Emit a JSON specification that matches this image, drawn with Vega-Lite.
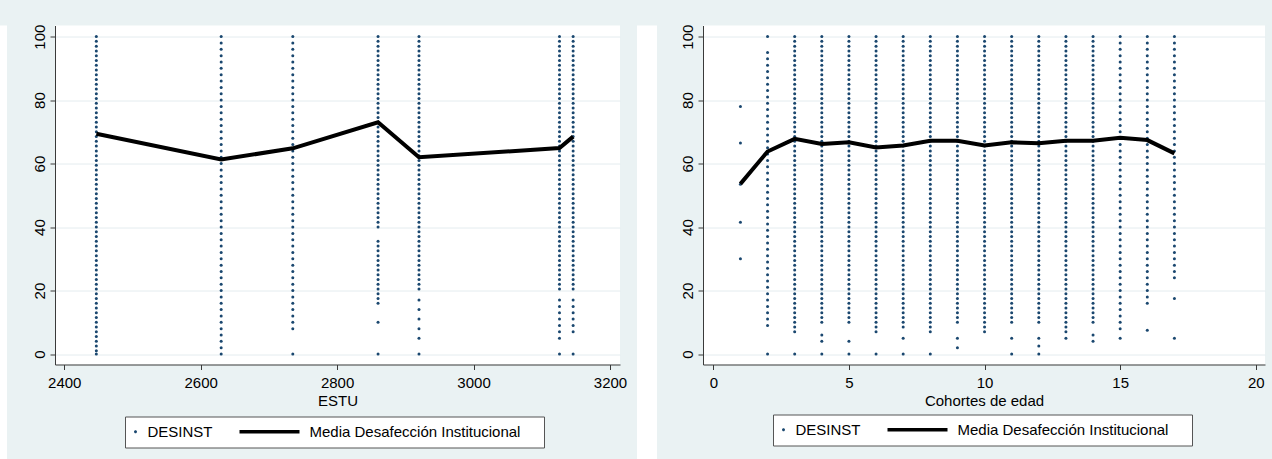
{
"$schema":"https://vega.github.io/schema/vega-lite/v6.json",
"background":"#EAF2F3",
"padding":{"left":0,"right":0,"top":23.5,"bottom":0},
"bounds":"flush",
"spacing":0,
"datasets":{
"LM":[{"x":2447,"y":69.4},{"x":2630,"y":61.3},{"x":2735,"y":64.8},{"x":2860,"y":73.0},{"x":2920,"y":62.0},{"x":3126,"y":64.9},{"x":3146,"y":68.5}],
"RM":[{"x":1,"y":53.6},{"x":2,"y":63.8},{"x":3,"y":67.8},{"x":4,"y":66.2},{"x":5,"y":66.7},{"x":6,"y":65.1},{"x":7,"y":65.7},{"x":8,"y":67.2},{"x":9,"y":67.2},{"x":10,"y":65.7},{"x":11,"y":66.7},{"x":12,"y":66.4},{"x":13,"y":67.2},{"x":14,"y":67.2},{"x":15,"y":68.1},{"x":16,"y":67.4},{"x":17,"y":63.2}],
"L":[
{"x":2447,"y":100},{"x":2447,"y":98.5},{"x":2447,"y":97},{"x":2447,"y":95.5},{"x":2447,"y":94},{"x":2447,"y":92.5},{"x":2447,"y":91},{"x":2447,"y":89.5},{"x":2447,"y":88},{"x":2447,"y":86.5},{"x":2447,"y":85},{"x":2447,"y":83.5},{"x":2447,"y":82},{"x":2447,"y":80.5},{"x":2447,"y":79},{"x":2447,"y":77.5},{"x":2447,"y":76},{"x":2447,"y":74.5},{"x":2447,"y":73},{"x":2447,"y":71.5},{"x":2447,"y":70},{"x":2447,"y":68.5},{"x":2447,"y":67},{"x":2447,"y":65.5},{"x":2447,"y":64},{"x":2447,"y":62.5},{"x":2447,"y":61},{"x":2447,"y":59.5},{"x":2447,"y":58},{"x":2447,"y":56.5},{"x":2447,"y":55},{"x":2447,"y":53.5},{"x":2447,"y":52},{"x":2447,"y":50.5},{"x":2447,"y":49},{"x":2447,"y":47.5},{"x":2447,"y":46},{"x":2447,"y":44.5},{"x":2447,"y":43},{"x":2447,"y":41.5},{"x":2447,"y":40},{"x":2447,"y":38.5},{"x":2447,"y":37},{"x":2447,"y":35.5},{"x":2447,"y":34},{"x":2447,"y":32.5},{"x":2447,"y":31},{"x":2447,"y":29.5},{"x":2447,"y":28},{"x":2447,"y":26.5},{"x":2447,"y":25},{"x":2447,"y":23.5},{"x":2447,"y":22},{"x":2447,"y":20.5},{"x":2447,"y":19},{"x":2447,"y":17.5},{"x":2447,"y":16},{"x":2447,"y":14.5},{"x":2447,"y":13},{"x":2447,"y":11.5},{"x":2447,"y":10},{"x":2447,"y":8.5},{"x":2447,"y":7},{"x":2447,"y":5.5},{"x":2447,"y":4},{"x":2447,"y":2.5},{"x":2447,"y":1},{"x":2447,"y":0},
{"x":2630,"y":100},{"x":2630,"y":98},{"x":2630,"y":96},{"x":2630,"y":94},{"x":2630,"y":92},{"x":2630,"y":90},{"x":2630,"y":88},{"x":2630,"y":86},{"x":2630,"y":84},{"x":2630,"y":82},{"x":2630,"y":80},{"x":2630,"y":78},{"x":2630,"y":76},{"x":2630,"y":74},{"x":2630,"y":72},{"x":2630,"y":70},{"x":2630,"y":68},{"x":2630,"y":66},{"x":2630,"y":64},{"x":2630,"y":62},{"x":2630,"y":60},{"x":2630,"y":58},{"x":2630,"y":56},{"x":2630,"y":54},{"x":2630,"y":52},{"x":2630,"y":50},{"x":2630,"y":48},{"x":2630,"y":46},{"x":2630,"y":44},{"x":2630,"y":42},{"x":2630,"y":40},{"x":2630,"y":38},{"x":2630,"y":36},{"x":2630,"y":34},{"x":2630,"y":32},{"x":2630,"y":30},{"x":2630,"y":28},{"x":2630,"y":26},{"x":2630,"y":24},{"x":2630,"y":22},{"x":2630,"y":20},{"x":2630,"y":18},{"x":2630,"y":16},{"x":2630,"y":14},{"x":2630,"y":12},{"x":2630,"y":10},{"x":2630,"y":8},{"x":2630,"y":6},{"x":2630,"y":4},{"x":2630,"y":2},{"x":2630,"y":0},
{"x":2735,"y":100},{"x":2735,"y":98},{"x":2735,"y":96},{"x":2735,"y":94},{"x":2735,"y":92},{"x":2735,"y":90},{"x":2735,"y":88},{"x":2735,"y":86},{"x":2735,"y":84},{"x":2735,"y":82},{"x":2735,"y":80},{"x":2735,"y":78},{"x":2735,"y":76},{"x":2735,"y":74},{"x":2735,"y":72},{"x":2735,"y":70},{"x":2735,"y":68},{"x":2735,"y":66},{"x":2735,"y":64},{"x":2735,"y":62},{"x":2735,"y":60},{"x":2735,"y":58},{"x":2735,"y":56},{"x":2735,"y":54},{"x":2735,"y":52},{"x":2735,"y":50},{"x":2735,"y":48},{"x":2735,"y":46},{"x":2735,"y":44},{"x":2735,"y":42},{"x":2735,"y":40},{"x":2735,"y":38},{"x":2735,"y":36},{"x":2735,"y":34},{"x":2735,"y":32},{"x":2735,"y":30},{"x":2735,"y":28},{"x":2735,"y":26},{"x":2735,"y":24},{"x":2735,"y":22},{"x":2735,"y":20},{"x":2735,"y":18},{"x":2735,"y":16},{"x":2735,"y":14},{"x":2735,"y":12},{"x":2735,"y":10},{"x":2735,"y":8},{"x":2735,"y":0},
{"x":2860,"y":100},{"x":2860,"y":98.5},{"x":2860,"y":97},{"x":2860,"y":95.5},{"x":2860,"y":94},{"x":2860,"y":92.5},{"x":2860,"y":91},{"x":2860,"y":89.5},{"x":2860,"y":88},{"x":2860,"y":86.5},{"x":2860,"y":85},{"x":2860,"y":83.5},{"x":2860,"y":82},{"x":2860,"y":80.5},{"x":2860,"y":79},{"x":2860,"y":77.5},{"x":2860,"y":76},{"x":2860,"y":74.5},{"x":2860,"y":73},{"x":2860,"y":71.5},{"x":2860,"y":70},{"x":2860,"y":68.5},{"x":2860,"y":67},{"x":2860,"y":65.5},{"x":2860,"y":64},{"x":2860,"y":62.5},{"x":2860,"y":61},{"x":2860,"y":59.5},{"x":2860,"y":58},{"x":2860,"y":56.5},{"x":2860,"y":55},{"x":2860,"y":53.5},{"x":2860,"y":52},{"x":2860,"y":50.5},{"x":2860,"y":49},{"x":2860,"y":47.5},{"x":2860,"y":46},{"x":2860,"y":44.5},{"x":2860,"y":43},{"x":2860,"y":41.5},{"x":2860,"y":40},{"x":2860,"y":35.5},{"x":2860,"y":34},{"x":2860,"y":32.5},{"x":2860,"y":31},{"x":2860,"y":29.5},{"x":2860,"y":28},{"x":2860,"y":26.5},{"x":2860,"y":25},{"x":2860,"y":23.5},{"x":2860,"y":22},{"x":2860,"y":20.5},{"x":2860,"y":19},{"x":2860,"y":17.5},{"x":2860,"y":16},{"x":2860,"y":10},{"x":2860,"y":0},
{"x":2920,"y":100},{"x":2920,"y":98.5},{"x":2920,"y":97},{"x":2920,"y":95.5},{"x":2920,"y":94},{"x":2920,"y":92.5},{"x":2920,"y":91},{"x":2920,"y":89.5},{"x":2920,"y":88},{"x":2920,"y":86.5},{"x":2920,"y":85},{"x":2920,"y":83.5},{"x":2920,"y":82},{"x":2920,"y":80.5},{"x":2920,"y":79},{"x":2920,"y":77.5},{"x":2920,"y":76},{"x":2920,"y":74.5},{"x":2920,"y":73},{"x":2920,"y":71.5},{"x":2920,"y":70},{"x":2920,"y":68.5},{"x":2920,"y":67},{"x":2920,"y":65.5},{"x":2920,"y":64},{"x":2920,"y":62.5},{"x":2920,"y":61},{"x":2920,"y":59.5},{"x":2920,"y":58},{"x":2920,"y":56.5},{"x":2920,"y":55},{"x":2920,"y":53.5},{"x":2920,"y":52},{"x":2920,"y":50.5},{"x":2920,"y":49},{"x":2920,"y":47.5},{"x":2920,"y":46},{"x":2920,"y":44.5},{"x":2920,"y":43},{"x":2920,"y":41.5},{"x":2920,"y":40},{"x":2920,"y":38.5},{"x":2920,"y":37},{"x":2920,"y":35.5},{"x":2920,"y":34},{"x":2920,"y":32.5},{"x":2920,"y":31},{"x":2920,"y":29.5},{"x":2920,"y":28},{"x":2920,"y":26.5},{"x":2920,"y":25},{"x":2920,"y":23.5},{"x":2920,"y":22},{"x":2920,"y":20.5},{"x":2920,"y":17},{"x":2920,"y":14},{"x":2920,"y":11},{"x":2920,"y":8},{"x":2920,"y":5},{"x":2920,"y":0},
{"x":3126,"y":100},{"x":3126,"y":98.5},{"x":3126,"y":97},{"x":3126,"y":95.5},{"x":3126,"y":94},{"x":3126,"y":92.5},{"x":3126,"y":91},{"x":3126,"y":89.5},{"x":3126,"y":88},{"x":3126,"y":86.5},{"x":3126,"y":85},{"x":3126,"y":83.5},{"x":3126,"y":82},{"x":3126,"y":80.5},{"x":3126,"y":79},{"x":3126,"y":77.5},{"x":3126,"y":76},{"x":3126,"y":74.5},{"x":3126,"y":73},{"x":3126,"y":71.5},{"x":3126,"y":70},{"x":3126,"y":68.5},{"x":3126,"y":67},{"x":3126,"y":65.5},{"x":3126,"y":64},{"x":3126,"y":62.5},{"x":3126,"y":61},{"x":3126,"y":59.5},{"x":3126,"y":58},{"x":3126,"y":56.5},{"x":3126,"y":55},{"x":3126,"y":53.5},{"x":3126,"y":52},{"x":3126,"y":50.5},{"x":3126,"y":49},{"x":3126,"y":47.5},{"x":3126,"y":46},{"x":3126,"y":44.5},{"x":3126,"y":43},{"x":3126,"y":41.5},{"x":3126,"y":40},{"x":3126,"y":38.5},{"x":3126,"y":37},{"x":3126,"y":35.5},{"x":3126,"y":34},{"x":3126,"y":32.5},{"x":3126,"y":31},{"x":3126,"y":29.5},{"x":3126,"y":28},{"x":3126,"y":26.5},{"x":3126,"y":25},{"x":3126,"y":23.5},{"x":3126,"y":22},{"x":3126,"y":20.5},{"x":3126,"y":17},{"x":3126,"y":15},{"x":3126,"y":13},{"x":3126,"y":11},{"x":3126,"y":9},{"x":3126,"y":7},{"x":3126,"y":5},{"x":3126,"y":0},
{"x":3146,"y":100},{"x":3146,"y":98.5},{"x":3146,"y":97},{"x":3146,"y":95.5},{"x":3146,"y":94},{"x":3146,"y":92.5},{"x":3146,"y":91},{"x":3146,"y":89.5},{"x":3146,"y":88},{"x":3146,"y":86.5},{"x":3146,"y":85},{"x":3146,"y":83.5},{"x":3146,"y":82},{"x":3146,"y":80.5},{"x":3146,"y":79},{"x":3146,"y":77.5},{"x":3146,"y":76},{"x":3146,"y":74.5},{"x":3146,"y":73},{"x":3146,"y":71.5},{"x":3146,"y":70},{"x":3146,"y":68.5},{"x":3146,"y":67},{"x":3146,"y":65.5},{"x":3146,"y":64},{"x":3146,"y":62.5},{"x":3146,"y":61},{"x":3146,"y":59.5},{"x":3146,"y":58},{"x":3146,"y":56.5},{"x":3146,"y":55},{"x":3146,"y":53.5},{"x":3146,"y":52},{"x":3146,"y":50.5},{"x":3146,"y":49},{"x":3146,"y":47.5},{"x":3146,"y":46},{"x":3146,"y":44.5},{"x":3146,"y":43},{"x":3146,"y":41.5},{"x":3146,"y":40},{"x":3146,"y":38.5},{"x":3146,"y":37},{"x":3146,"y":35.5},{"x":3146,"y":34},{"x":3146,"y":32.5},{"x":3146,"y":31},{"x":3146,"y":29.5},{"x":3146,"y":28},{"x":3146,"y":26.5},{"x":3146,"y":25},{"x":3146,"y":23.5},{"x":3146,"y":22},{"x":3146,"y":20.5},{"x":3146,"y":17},{"x":3146,"y":15},{"x":3146,"y":13},{"x":3146,"y":11},{"x":3146,"y":9},{"x":3146,"y":7},{"x":3146,"y":0}
],
"R":[
{"x":1,"y":78},{"x":1,"y":66.5},{"x":1,"y":53.5},{"x":1,"y":41.5},{"x":1,"y":30},
{"x":2,"y":100},{"x":2,"y":95},{"x":2,"y":93},{"x":2,"y":91},{"x":2,"y":89},{"x":2,"y":87},{"x":2,"y":85},{"x":2,"y":83},{"x":2,"y":81},{"x":2,"y":79},{"x":2,"y":77},{"x":2,"y":75},{"x":2,"y":73},{"x":2,"y":71},{"x":2,"y":69},{"x":2,"y":67},{"x":2,"y":65},{"x":2,"y":63},{"x":2,"y":61},{"x":2,"y":59},{"x":2,"y":57},{"x":2,"y":55},{"x":2,"y":53},{"x":2,"y":51},{"x":2,"y":49},{"x":2,"y":47},{"x":2,"y":45},{"x":2,"y":43},{"x":2,"y":41},{"x":2,"y":39},{"x":2,"y":37},{"x":2,"y":35},{"x":2,"y":33},{"x":2,"y":31},{"x":2,"y":29},{"x":2,"y":27},{"x":2,"y":25},{"x":2,"y":23},{"x":2,"y":21},{"x":2,"y":19},{"x":2,"y":17},{"x":2,"y":15},{"x":2,"y":13},{"x":2,"y":11},{"x":2,"y":9},{"x":2,"y":0},
{"x":3,"y":100},{"x":3,"y":98.5},{"x":3,"y":97},{"x":3,"y":95.5},{"x":3,"y":94},{"x":3,"y":92.5},{"x":3,"y":91},{"x":3,"y":89.5},{"x":3,"y":88},{"x":3,"y":86.5},{"x":3,"y":85},{"x":3,"y":83.5},{"x":3,"y":82},{"x":3,"y":80.5},{"x":3,"y":79},{"x":3,"y":77.5},{"x":3,"y":76},{"x":3,"y":74.5},{"x":3,"y":73},{"x":3,"y":71.5},{"x":3,"y":70},{"x":3,"y":68.5},{"x":3,"y":67},{"x":3,"y":65.5},{"x":3,"y":64},{"x":3,"y":62.5},{"x":3,"y":61},{"x":3,"y":59.5},{"x":3,"y":58},{"x":3,"y":56.5},{"x":3,"y":55},{"x":3,"y":53.5},{"x":3,"y":52},{"x":3,"y":50.5},{"x":3,"y":49},{"x":3,"y":47.5},{"x":3,"y":46},{"x":3,"y":44.5},{"x":3,"y":43},{"x":3,"y":41.5},{"x":3,"y":40},{"x":3,"y":38.5},{"x":3,"y":37},{"x":3,"y":35.5},{"x":3,"y":34},{"x":3,"y":32.5},{"x":3,"y":31},{"x":3,"y":29.5},{"x":3,"y":28},{"x":3,"y":26.5},{"x":3,"y":25},{"x":3,"y":23.5},{"x":3,"y":22},{"x":3,"y":20.5},{"x":3,"y":19},{"x":3,"y":17.5},{"x":3,"y":16},{"x":3,"y":14.5},{"x":3,"y":13},{"x":3,"y":11.5},{"x":3,"y":10},{"x":3,"y":8.5},{"x":3,"y":7},{"x":3,"y":0},
{"x":4,"y":100},{"x":4,"y":98.5},{"x":4,"y":97},{"x":4,"y":95.5},{"x":4,"y":94},{"x":4,"y":92.5},{"x":4,"y":91},{"x":4,"y":89.5},{"x":4,"y":88},{"x":4,"y":86.5},{"x":4,"y":85},{"x":4,"y":83.5},{"x":4,"y":82},{"x":4,"y":80.5},{"x":4,"y":79},{"x":4,"y":77.5},{"x":4,"y":76},{"x":4,"y":74.5},{"x":4,"y":73},{"x":4,"y":71.5},{"x":4,"y":70},{"x":4,"y":68.5},{"x":4,"y":67},{"x":4,"y":65.5},{"x":4,"y":64},{"x":4,"y":62.5},{"x":4,"y":61},{"x":4,"y":59.5},{"x":4,"y":58},{"x":4,"y":56.5},{"x":4,"y":55},{"x":4,"y":53.5},{"x":4,"y":52},{"x":4,"y":50.5},{"x":4,"y":49},{"x":4,"y":47.5},{"x":4,"y":46},{"x":4,"y":44.5},{"x":4,"y":43},{"x":4,"y":41.5},{"x":4,"y":40},{"x":4,"y":38.5},{"x":4,"y":37},{"x":4,"y":35.5},{"x":4,"y":34},{"x":4,"y":32.5},{"x":4,"y":31},{"x":4,"y":29.5},{"x":4,"y":28},{"x":4,"y":26.5},{"x":4,"y":25},{"x":4,"y":23.5},{"x":4,"y":22},{"x":4,"y":20.5},{"x":4,"y":19},{"x":4,"y":17.5},{"x":4,"y":16},{"x":4,"y":14.5},{"x":4,"y":13},{"x":4,"y":11.5},{"x":4,"y":10},{"x":4,"y":6},{"x":4,"y":4},{"x":4,"y":0},
{"x":5,"y":100},{"x":5,"y":98.5},{"x":5,"y":97},{"x":5,"y":95.5},{"x":5,"y":94},{"x":5,"y":92.5},{"x":5,"y":91},{"x":5,"y":89.5},{"x":5,"y":88},{"x":5,"y":86.5},{"x":5,"y":85},{"x":5,"y":83.5},{"x":5,"y":82},{"x":5,"y":80.5},{"x":5,"y":79},{"x":5,"y":77.5},{"x":5,"y":76},{"x":5,"y":74.5},{"x":5,"y":73},{"x":5,"y":71.5},{"x":5,"y":70},{"x":5,"y":68.5},{"x":5,"y":67},{"x":5,"y":65.5},{"x":5,"y":64},{"x":5,"y":62.5},{"x":5,"y":61},{"x":5,"y":59.5},{"x":5,"y":58},{"x":5,"y":56.5},{"x":5,"y":55},{"x":5,"y":53.5},{"x":5,"y":52},{"x":5,"y":50.5},{"x":5,"y":49},{"x":5,"y":47.5},{"x":5,"y":46},{"x":5,"y":44.5},{"x":5,"y":43},{"x":5,"y":41.5},{"x":5,"y":40},{"x":5,"y":38.5},{"x":5,"y":37},{"x":5,"y":35.5},{"x":5,"y":34},{"x":5,"y":32.5},{"x":5,"y":31},{"x":5,"y":29.5},{"x":5,"y":28},{"x":5,"y":26.5},{"x":5,"y":25},{"x":5,"y":23.5},{"x":5,"y":22},{"x":5,"y":20.5},{"x":5,"y":19},{"x":5,"y":17.5},{"x":5,"y":16},{"x":5,"y":14.5},{"x":5,"y":13},{"x":5,"y":11.5},{"x":5,"y":10},{"x":5,"y":4},{"x":5,"y":0},
{"x":6,"y":100},{"x":6,"y":98.5},{"x":6,"y":97},{"x":6,"y":95.5},{"x":6,"y":94},{"x":6,"y":92.5},{"x":6,"y":91},{"x":6,"y":89.5},{"x":6,"y":88},{"x":6,"y":86.5},{"x":6,"y":85},{"x":6,"y":83.5},{"x":6,"y":82},{"x":6,"y":80.5},{"x":6,"y":79},{"x":6,"y":77.5},{"x":6,"y":76},{"x":6,"y":74.5},{"x":6,"y":73},{"x":6,"y":71.5},{"x":6,"y":70},{"x":6,"y":68.5},{"x":6,"y":67},{"x":6,"y":65.5},{"x":6,"y":64},{"x":6,"y":62.5},{"x":6,"y":61},{"x":6,"y":59.5},{"x":6,"y":58},{"x":6,"y":56.5},{"x":6,"y":55},{"x":6,"y":53.5},{"x":6,"y":52},{"x":6,"y":50.5},{"x":6,"y":49},{"x":6,"y":47.5},{"x":6,"y":46},{"x":6,"y":44.5},{"x":6,"y":43},{"x":6,"y":41.5},{"x":6,"y":40},{"x":6,"y":38.5},{"x":6,"y":37},{"x":6,"y":35.5},{"x":6,"y":34},{"x":6,"y":32.5},{"x":6,"y":31},{"x":6,"y":29.5},{"x":6,"y":28},{"x":6,"y":26.5},{"x":6,"y":25},{"x":6,"y":23.5},{"x":6,"y":22},{"x":6,"y":20.5},{"x":6,"y":19},{"x":6,"y":17.5},{"x":6,"y":16},{"x":6,"y":14.5},{"x":6,"y":13},{"x":6,"y":11.5},{"x":6,"y":10},{"x":6,"y":8.5},{"x":6,"y":7},{"x":6,"y":0},
{"x":7,"y":100},{"x":7,"y":98.5},{"x":7,"y":97},{"x":7,"y":95.5},{"x":7,"y":94},{"x":7,"y":92.5},{"x":7,"y":91},{"x":7,"y":89.5},{"x":7,"y":88},{"x":7,"y":86.5},{"x":7,"y":85},{"x":7,"y":83.5},{"x":7,"y":82},{"x":7,"y":80.5},{"x":7,"y":79},{"x":7,"y":77.5},{"x":7,"y":76},{"x":7,"y":74.5},{"x":7,"y":73},{"x":7,"y":71.5},{"x":7,"y":70},{"x":7,"y":68.5},{"x":7,"y":67},{"x":7,"y":65.5},{"x":7,"y":64},{"x":7,"y":62.5},{"x":7,"y":61},{"x":7,"y":59.5},{"x":7,"y":58},{"x":7,"y":56.5},{"x":7,"y":55},{"x":7,"y":53.5},{"x":7,"y":52},{"x":7,"y":50.5},{"x":7,"y":49},{"x":7,"y":47.5},{"x":7,"y":46},{"x":7,"y":44.5},{"x":7,"y":43},{"x":7,"y":41.5},{"x":7,"y":40},{"x":7,"y":38.5},{"x":7,"y":37},{"x":7,"y":35.5},{"x":7,"y":34},{"x":7,"y":32.5},{"x":7,"y":31},{"x":7,"y":29.5},{"x":7,"y":28},{"x":7,"y":26.5},{"x":7,"y":25},{"x":7,"y":23.5},{"x":7,"y":22},{"x":7,"y":20.5},{"x":7,"y":19},{"x":7,"y":17.5},{"x":7,"y":16},{"x":7,"y":14.5},{"x":7,"y":13},{"x":7,"y":11.5},{"x":7,"y":10},{"x":7,"y":8.5},{"x":7,"y":5},{"x":7,"y":0},
{"x":8,"y":100},{"x":8,"y":98.5},{"x":8,"y":97},{"x":8,"y":95.5},{"x":8,"y":94},{"x":8,"y":92.5},{"x":8,"y":91},{"x":8,"y":89.5},{"x":8,"y":88},{"x":8,"y":86.5},{"x":8,"y":85},{"x":8,"y":83.5},{"x":8,"y":82},{"x":8,"y":80.5},{"x":8,"y":79},{"x":8,"y":77.5},{"x":8,"y":76},{"x":8,"y":74.5},{"x":8,"y":73},{"x":8,"y":71.5},{"x":8,"y":70},{"x":8,"y":68.5},{"x":8,"y":67},{"x":8,"y":65.5},{"x":8,"y":64},{"x":8,"y":62.5},{"x":8,"y":61},{"x":8,"y":59.5},{"x":8,"y":58},{"x":8,"y":56.5},{"x":8,"y":55},{"x":8,"y":53.5},{"x":8,"y":52},{"x":8,"y":50.5},{"x":8,"y":49},{"x":8,"y":47.5},{"x":8,"y":46},{"x":8,"y":44.5},{"x":8,"y":43},{"x":8,"y":41.5},{"x":8,"y":40},{"x":8,"y":38.5},{"x":8,"y":37},{"x":8,"y":35.5},{"x":8,"y":34},{"x":8,"y":32.5},{"x":8,"y":31},{"x":8,"y":29.5},{"x":8,"y":28},{"x":8,"y":26.5},{"x":8,"y":25},{"x":8,"y":23.5},{"x":8,"y":22},{"x":8,"y":20.5},{"x":8,"y":19},{"x":8,"y":17.5},{"x":8,"y":16},{"x":8,"y":14.5},{"x":8,"y":13},{"x":8,"y":11.5},{"x":8,"y":10},{"x":8,"y":8.5},{"x":8,"y":7},{"x":8,"y":0},
{"x":9,"y":100},{"x":9,"y":98.5},{"x":9,"y":97},{"x":9,"y":95.5},{"x":9,"y":94},{"x":9,"y":92.5},{"x":9,"y":91},{"x":9,"y":89.5},{"x":9,"y":88},{"x":9,"y":86.5},{"x":9,"y":85},{"x":9,"y":83.5},{"x":9,"y":82},{"x":9,"y":80.5},{"x":9,"y":79},{"x":9,"y":77.5},{"x":9,"y":76},{"x":9,"y":74.5},{"x":9,"y":73},{"x":9,"y":71.5},{"x":9,"y":70},{"x":9,"y":68.5},{"x":9,"y":67},{"x":9,"y":65.5},{"x":9,"y":64},{"x":9,"y":62.5},{"x":9,"y":61},{"x":9,"y":59.5},{"x":9,"y":58},{"x":9,"y":56.5},{"x":9,"y":55},{"x":9,"y":53.5},{"x":9,"y":52},{"x":9,"y":50.5},{"x":9,"y":49},{"x":9,"y":47.5},{"x":9,"y":46},{"x":9,"y":44.5},{"x":9,"y":43},{"x":9,"y":41.5},{"x":9,"y":40},{"x":9,"y":38.5},{"x":9,"y":37},{"x":9,"y":35.5},{"x":9,"y":34},{"x":9,"y":32.5},{"x":9,"y":31},{"x":9,"y":29.5},{"x":9,"y":28},{"x":9,"y":26.5},{"x":9,"y":25},{"x":9,"y":23.5},{"x":9,"y":22},{"x":9,"y":20.5},{"x":9,"y":19},{"x":9,"y":17.5},{"x":9,"y":16},{"x":9,"y":14.5},{"x":9,"y":13},{"x":9,"y":11.5},{"x":9,"y":10},{"x":9,"y":5},{"x":9,"y":2},
{"x":10,"y":100},{"x":10,"y":98.5},{"x":10,"y":97},{"x":10,"y":95.5},{"x":10,"y":94},{"x":10,"y":92.5},{"x":10,"y":91},{"x":10,"y":89.5},{"x":10,"y":88},{"x":10,"y":86.5},{"x":10,"y":85},{"x":10,"y":83.5},{"x":10,"y":82},{"x":10,"y":80.5},{"x":10,"y":79},{"x":10,"y":77.5},{"x":10,"y":76},{"x":10,"y":74.5},{"x":10,"y":73},{"x":10,"y":71.5},{"x":10,"y":70},{"x":10,"y":68.5},{"x":10,"y":67},{"x":10,"y":65.5},{"x":10,"y":64},{"x":10,"y":62.5},{"x":10,"y":61},{"x":10,"y":59.5},{"x":10,"y":58},{"x":10,"y":56.5},{"x":10,"y":55},{"x":10,"y":53.5},{"x":10,"y":52},{"x":10,"y":50.5},{"x":10,"y":49},{"x":10,"y":47.5},{"x":10,"y":46},{"x":10,"y":44.5},{"x":10,"y":43},{"x":10,"y":41.5},{"x":10,"y":40},{"x":10,"y":38.5},{"x":10,"y":37},{"x":10,"y":35.5},{"x":10,"y":34},{"x":10,"y":32.5},{"x":10,"y":31},{"x":10,"y":29.5},{"x":10,"y":28},{"x":10,"y":26.5},{"x":10,"y":25},{"x":10,"y":23.5},{"x":10,"y":22},{"x":10,"y":20.5},{"x":10,"y":19},{"x":10,"y":17.5},{"x":10,"y":16},{"x":10,"y":14.5},{"x":10,"y":13},{"x":10,"y":11.5},{"x":10,"y":10},{"x":10,"y":8.5},{"x":10,"y":7},
{"x":11,"y":100},{"x":11,"y":98.5},{"x":11,"y":97},{"x":11,"y":95.5},{"x":11,"y":94},{"x":11,"y":92.5},{"x":11,"y":91},{"x":11,"y":89.5},{"x":11,"y":88},{"x":11,"y":86.5},{"x":11,"y":85},{"x":11,"y":83.5},{"x":11,"y":82},{"x":11,"y":80.5},{"x":11,"y":79},{"x":11,"y":77.5},{"x":11,"y":76},{"x":11,"y":74.5},{"x":11,"y":73},{"x":11,"y":71.5},{"x":11,"y":70},{"x":11,"y":68.5},{"x":11,"y":67},{"x":11,"y":65.5},{"x":11,"y":64},{"x":11,"y":62.5},{"x":11,"y":61},{"x":11,"y":59.5},{"x":11,"y":58},{"x":11,"y":56.5},{"x":11,"y":55},{"x":11,"y":53.5},{"x":11,"y":52},{"x":11,"y":50.5},{"x":11,"y":49},{"x":11,"y":47.5},{"x":11,"y":46},{"x":11,"y":44.5},{"x":11,"y":43},{"x":11,"y":41.5},{"x":11,"y":40},{"x":11,"y":38.5},{"x":11,"y":37},{"x":11,"y":35.5},{"x":11,"y":34},{"x":11,"y":32.5},{"x":11,"y":31},{"x":11,"y":29.5},{"x":11,"y":28},{"x":11,"y":26.5},{"x":11,"y":25},{"x":11,"y":23.5},{"x":11,"y":22},{"x":11,"y":20.5},{"x":11,"y":19},{"x":11,"y":17.5},{"x":11,"y":16},{"x":11,"y":14.5},{"x":11,"y":13},{"x":11,"y":11.5},{"x":11,"y":10},{"x":11,"y":5},{"x":11,"y":0},
{"x":12,"y":100},{"x":12,"y":98.5},{"x":12,"y":97},{"x":12,"y":95.5},{"x":12,"y":94},{"x":12,"y":92.5},{"x":12,"y":91},{"x":12,"y":89.5},{"x":12,"y":88},{"x":12,"y":86.5},{"x":12,"y":85},{"x":12,"y":83.5},{"x":12,"y":82},{"x":12,"y":80.5},{"x":12,"y":79},{"x":12,"y":77.5},{"x":12,"y":76},{"x":12,"y":74.5},{"x":12,"y":73},{"x":12,"y":71.5},{"x":12,"y":70},{"x":12,"y":68.5},{"x":12,"y":67},{"x":12,"y":65.5},{"x":12,"y":64},{"x":12,"y":62.5},{"x":12,"y":61},{"x":12,"y":59.5},{"x":12,"y":58},{"x":12,"y":56.5},{"x":12,"y":55},{"x":12,"y":53.5},{"x":12,"y":52},{"x":12,"y":50.5},{"x":12,"y":49},{"x":12,"y":47.5},{"x":12,"y":46},{"x":12,"y":44.5},{"x":12,"y":43},{"x":12,"y":41.5},{"x":12,"y":40},{"x":12,"y":38.5},{"x":12,"y":37},{"x":12,"y":35.5},{"x":12,"y":34},{"x":12,"y":32.5},{"x":12,"y":31},{"x":12,"y":29.5},{"x":12,"y":28},{"x":12,"y":26.5},{"x":12,"y":25},{"x":12,"y":23.5},{"x":12,"y":22},{"x":12,"y":20.5},{"x":12,"y":19},{"x":12,"y":17.5},{"x":12,"y":16},{"x":12,"y":14.5},{"x":12,"y":13},{"x":12,"y":11.5},{"x":12,"y":10},{"x":12,"y":5},{"x":12,"y":2.5},{"x":12,"y":0},
{"x":13,"y":100},{"x":13,"y":98.5},{"x":13,"y":97},{"x":13,"y":95.5},{"x":13,"y":94},{"x":13,"y":92.5},{"x":13,"y":91},{"x":13,"y":89.5},{"x":13,"y":88},{"x":13,"y":86.5},{"x":13,"y":85},{"x":13,"y":83.5},{"x":13,"y":82},{"x":13,"y":80.5},{"x":13,"y":79},{"x":13,"y":77.5},{"x":13,"y":76},{"x":13,"y":74.5},{"x":13,"y":73},{"x":13,"y":71.5},{"x":13,"y":70},{"x":13,"y":68.5},{"x":13,"y":67},{"x":13,"y":65.5},{"x":13,"y":64},{"x":13,"y":62.5},{"x":13,"y":61},{"x":13,"y":59.5},{"x":13,"y":58},{"x":13,"y":56.5},{"x":13,"y":55},{"x":13,"y":53.5},{"x":13,"y":52},{"x":13,"y":50.5},{"x":13,"y":49},{"x":13,"y":47.5},{"x":13,"y":46},{"x":13,"y":44.5},{"x":13,"y":43},{"x":13,"y":41.5},{"x":13,"y":40},{"x":13,"y":38.5},{"x":13,"y":37},{"x":13,"y":35.5},{"x":13,"y":34},{"x":13,"y":32.5},{"x":13,"y":31},{"x":13,"y":29.5},{"x":13,"y":28},{"x":13,"y":26.5},{"x":13,"y":25},{"x":13,"y":23.5},{"x":13,"y":22},{"x":13,"y":20.5},{"x":13,"y":19},{"x":13,"y":17.5},{"x":13,"y":16},{"x":13,"y":14.5},{"x":13,"y":13},{"x":13,"y":11.5},{"x":13,"y":10},{"x":13,"y":8.5},{"x":13,"y":7},{"x":13,"y":5},
{"x":14,"y":100},{"x":14,"y":98.5},{"x":14,"y":97},{"x":14,"y":95.5},{"x":14,"y":94},{"x":14,"y":92.5},{"x":14,"y":91},{"x":14,"y":89.5},{"x":14,"y":88},{"x":14,"y":86.5},{"x":14,"y":85},{"x":14,"y":83.5},{"x":14,"y":82},{"x":14,"y":80.5},{"x":14,"y":79},{"x":14,"y":77.5},{"x":14,"y":76},{"x":14,"y":74.5},{"x":14,"y":73},{"x":14,"y":71.5},{"x":14,"y":70},{"x":14,"y":68.5},{"x":14,"y":67},{"x":14,"y":65.5},{"x":14,"y":64},{"x":14,"y":62.5},{"x":14,"y":61},{"x":14,"y":59.5},{"x":14,"y":58},{"x":14,"y":56.5},{"x":14,"y":55},{"x":14,"y":53.5},{"x":14,"y":52},{"x":14,"y":50.5},{"x":14,"y":49},{"x":14,"y":47.5},{"x":14,"y":46},{"x":14,"y":44.5},{"x":14,"y":43},{"x":14,"y":41.5},{"x":14,"y":40},{"x":14,"y":38.5},{"x":14,"y":37},{"x":14,"y":35.5},{"x":14,"y":34},{"x":14,"y":32.5},{"x":14,"y":31},{"x":14,"y":29.5},{"x":14,"y":28},{"x":14,"y":26.5},{"x":14,"y":25},{"x":14,"y":23.5},{"x":14,"y":22},{"x":14,"y":20.5},{"x":14,"y":19},{"x":14,"y":17.5},{"x":14,"y":16},{"x":14,"y":14.5},{"x":14,"y":13},{"x":14,"y":11.5},{"x":14,"y":10},{"x":14,"y":6},{"x":14,"y":4},
{"x":15,"y":100},{"x":15,"y":98},{"x":15,"y":96},{"x":15,"y":94},{"x":15,"y":92},{"x":15,"y":90},{"x":15,"y":88},{"x":15,"y":86},{"x":15,"y":84},{"x":15,"y":82},{"x":15,"y":80},{"x":15,"y":78},{"x":15,"y":76},{"x":15,"y":74},{"x":15,"y":72},{"x":15,"y":70},{"x":15,"y":68},{"x":15,"y":66},{"x":15,"y":64},{"x":15,"y":62},{"x":15,"y":60},{"x":15,"y":58},{"x":15,"y":56},{"x":15,"y":54},{"x":15,"y":52},{"x":15,"y":50},{"x":15,"y":48},{"x":15,"y":46},{"x":15,"y":44},{"x":15,"y":42},{"x":15,"y":40},{"x":15,"y":38},{"x":15,"y":36},{"x":15,"y":34},{"x":15,"y":32},{"x":15,"y":30},{"x":15,"y":28},{"x":15,"y":26},{"x":15,"y":24},{"x":15,"y":22},{"x":15,"y":20},{"x":15,"y":18},{"x":15,"y":16},{"x":15,"y":14},{"x":15,"y":12},{"x":15,"y":10},{"x":15,"y":8},{"x":15,"y":5},
{"x":16,"y":100},{"x":16,"y":98},{"x":16,"y":96},{"x":16,"y":94},{"x":16,"y":92},{"x":16,"y":90},{"x":16,"y":88},{"x":16,"y":86},{"x":16,"y":84},{"x":16,"y":82},{"x":16,"y":80},{"x":16,"y":78},{"x":16,"y":76},{"x":16,"y":74},{"x":16,"y":72},{"x":16,"y":70},{"x":16,"y":68},{"x":16,"y":66},{"x":16,"y":64},{"x":16,"y":62},{"x":16,"y":60},{"x":16,"y":58},{"x":16,"y":56},{"x":16,"y":54},{"x":16,"y":52},{"x":16,"y":50},{"x":16,"y":48},{"x":16,"y":46},{"x":16,"y":44},{"x":16,"y":42},{"x":16,"y":40},{"x":16,"y":38},{"x":16,"y":36},{"x":16,"y":34},{"x":16,"y":32},{"x":16,"y":30},{"x":16,"y":28},{"x":16,"y":26},{"x":16,"y":24},{"x":16,"y":22},{"x":16,"y":20},{"x":16,"y":18},{"x":16,"y":16},{"x":16,"y":7.5},
{"x":17,"y":100},{"x":17,"y":98},{"x":17,"y":96},{"x":17,"y":94},{"x":17,"y":92},{"x":17,"y":90},{"x":17,"y":88},{"x":17,"y":86},{"x":17,"y":84},{"x":17,"y":82},{"x":17,"y":80},{"x":17,"y":78},{"x":17,"y":76},{"x":17,"y":74},{"x":17,"y":72},{"x":17,"y":70},{"x":17,"y":68},{"x":17,"y":66},{"x":17,"y":64},{"x":17,"y":62},{"x":17,"y":60},{"x":17,"y":58},{"x":17,"y":56},{"x":17,"y":54},{"x":17,"y":52},{"x":17,"y":50},{"x":17,"y":48},{"x":17,"y":46},{"x":17,"y":44},{"x":17,"y":42},{"x":17,"y":40},{"x":17,"y":38},{"x":17,"y":36},{"x":17,"y":34},{"x":17,"y":32},{"x":17,"y":30},{"x":17,"y":28},{"x":17,"y":26},{"x":17,"y":24},{"x":17,"y":17.5},{"x":17,"y":5}
]
},
"config":{
"view":{"stroke":null},
"axis":{"domainColor":"#3a3a3a","tickColor":"#3a3a3a","domainWidth":1,"tickWidth":1,"tickSize":5,"labelFont":"Liberation Sans","labelFontSize":15,"labelColor":"#000000","titleFont":"Liberation Sans","titleFontSize":15,"titleFontWeight":"normal","titleColor":"#000000","grid":false},
"axisY":{"grid":true,"gridColor":"#E4ECEF","gridWidth":1,"labelAngle":-90,"labelAlign":"center","labelBaseline":"bottom","labelPadding":3},
"axisX":{"labelPadding":6,"titlePadding":3},
"legend":{"orient":"none","direction":"horizontal","columns":2,"padding":7.5,"strokeColor":"#555555","fillColor":"#ffffff","labelFont":"Liberation Sans","labelFontSize":15,"labelColor":"#000000","labelLimit":400,"labelOffset":8,"columnPadding":19,"symbolSize":100,"symbolStrokeWidth":3.5,"titleOrient":"right","titlePadding":16,"titleFont":"Liberation Sans","titleFontSize":15,"titleFontWeight":"normal","titleColor":"#ffffff"}
},
"resolve":{"scale":{"x":"independent","y":"independent","color":"independent"},"legend":{"color":"independent"}},
"hconcat":[
{"width":7,"height":436,"data":{"values":[]},"mark":"point","view":{"fill":"#ffffff","stroke":null}},
{"width":48,"height":10,"data":{"values":[]},"mark":"point","view":{"stroke":null}},
{"width":565,"height":339,"view":{"fill":"#ffffff","stroke":null},
"layer":[
{"data":{"name":"L"},"mark":{"type":"circle","size":9,"opacity":1},
"encoding":{
"x":{"field":"x","type":"quantitative","scale":{"domain":[2386.4,3214.7],"nice":false,"zero":false},"axis":{"values":[2400,2600,2800,3000,3200],"format":"d","title":"ESTU"}},
"y":{"field":"y","type":"quantitative","scale":{"domain":[-3.3,103.5],"nice":false,"zero":false},"axis":{"values":[0,20,40,60,80,100],"title":null}},
"color":{"datum":"DESINST","type":"nominal","scale":{"domain":["DESINST","Media Desafección Institucional"],"range":["#1A476F","#000000"]},
"legend":{"legendX":70,"legendY":391,"title":"\u00a0",
"encode":{"symbols":{"update":{"x":{"signal":"datum.value == 'DESINST' ? 3 : 32"},"shape":{"signal":"datum.value == 'DESINST' ? 'M-0.3,0a0.3,0.3 0 1,0 0.6,0a0.3,0.3 0 1,0 -0.6,0Z' : 'M-6,0L6,0'"},"strokeWidth":{"signal":"datum.value == 'DESINST' ? 0 : 3.5"},"fill":{"signal":"datum.value == 'DESINST' ? '#1A476F' : 'transparent'"},"stroke":{"signal":"datum.value == 'DESINST' ? 'transparent' : '#000000'"},"opacity":{"value":1}}},
"labels":{"update":{"x":{"signal":"datum.value == 'DESINST' ? 15 : 72"}}}}}}}},
{"data":{"name":"LM"},"mark":{"type":"line","strokeWidth":4},
"encoding":{"x":{"field":"x","type":"quantitative"},"y":{"field":"y","type":"quantitative"},
"color":{"datum":"Media Desafección Institucional","type":"nominal",
"legend":{"legendX":70,"legendY":391,"title":"\u00a0",
"encode":{"symbols":{"update":{"x":{"signal":"datum.value == 'DESINST' ? 3 : 32"},"shape":{"signal":"datum.value == 'DESINST' ? 'M-0.3,0a0.3,0.3 0 1,0 0.6,0a0.3,0.3 0 1,0 -0.6,0Z' : 'M-6,0L6,0'"},"strokeWidth":{"signal":"datum.value == 'DESINST' ? 0 : 3.5"},"fill":{"signal":"datum.value == 'DESINST' ? '#1A476F' : 'transparent'"},"stroke":{"signal":"datum.value == 'DESINST' ? 'transparent' : '#000000'"},"opacity":{"value":1}}},
"labels":{"update":{"x":{"signal":"datum.value == 'DESINST' ? 15 : 72"}}}}}}}}
]},
{"width":17,"height":10,"data":{"values":[]},"mark":"point","view":{"stroke":null}},
{"width":20,"height":436,"data":{"values":[]},"mark":"point","view":{"fill":"#ffffff","stroke":null}},
{"width":46,"height":10,"data":{"values":[]},"mark":"point","view":{"stroke":null}},
{"width":562,"height":339,"view":{"fill":"#ffffff","stroke":null},
"layer":[
{"data":{"name":"R"},"mark":{"type":"circle","size":9,"opacity":1},
"encoding":{
"x":{"field":"x","type":"quantitative","scale":{"domain":[-0.38,20.34],"nice":false,"zero":false},"axis":{"values":[0,5,10,15,20],"title":"Cohortes de edad"}},
"y":{"field":"y","type":"quantitative","scale":{"domain":[-3.3,103.5],"nice":false,"zero":false},"axis":{"values":[0,20,40,60,80,100],"title":null}},
"color":{"datum":"DESINST","type":"nominal","scale":{"domain":["DESINST","Media Desafección Institucional"],"range":["#1A476F","#000000"]},
"legend":{"legendX":70,"legendY":389,"title":"\u00a0",
"encode":{"symbols":{"update":{"x":{"signal":"datum.value == 'DESINST' ? 3 : 32"},"shape":{"signal":"datum.value == 'DESINST' ? 'M-0.3,0a0.3,0.3 0 1,0 0.6,0a0.3,0.3 0 1,0 -0.6,0Z' : 'M-6,0L6,0'"},"strokeWidth":{"signal":"datum.value == 'DESINST' ? 0 : 3.5"},"fill":{"signal":"datum.value == 'DESINST' ? '#1A476F' : 'transparent'"},"stroke":{"signal":"datum.value == 'DESINST' ? 'transparent' : '#000000'"},"opacity":{"value":1}}},
"labels":{"update":{"x":{"signal":"datum.value == 'DESINST' ? 15 : 72"}}}}}}}},
{"data":{"name":"RM"},"mark":{"type":"line","strokeWidth":4},
"encoding":{"x":{"field":"x","type":"quantitative"},"y":{"field":"y","type":"quantitative"},
"color":{"datum":"Media Desafección Institucional","type":"nominal",
"legend":{"legendX":70,"legendY":389,"title":"\u00a0",
"encode":{"symbols":{"update":{"x":{"signal":"datum.value == 'DESINST' ? 3 : 32"},"shape":{"signal":"datum.value == 'DESINST' ? 'M-0.3,0a0.3,0.3 0 1,0 0.6,0a0.3,0.3 0 1,0 -0.6,0Z' : 'M-6,0L6,0'"},"strokeWidth":{"signal":"datum.value == 'DESINST' ? 0 : 3.5"},"fill":{"signal":"datum.value == 'DESINST' ? '#1A476F' : 'transparent'"},"stroke":{"signal":"datum.value == 'DESINST' ? 'transparent' : '#000000'"},"opacity":{"value":1}}},
"labels":{"update":{"x":{"signal":"datum.value == 'DESINST' ? 15 : 72"}}}}}}}}
]},
{"width":7,"height":10,"data":{"values":[]},"mark":"point","view":{"stroke":null}}
]
}
